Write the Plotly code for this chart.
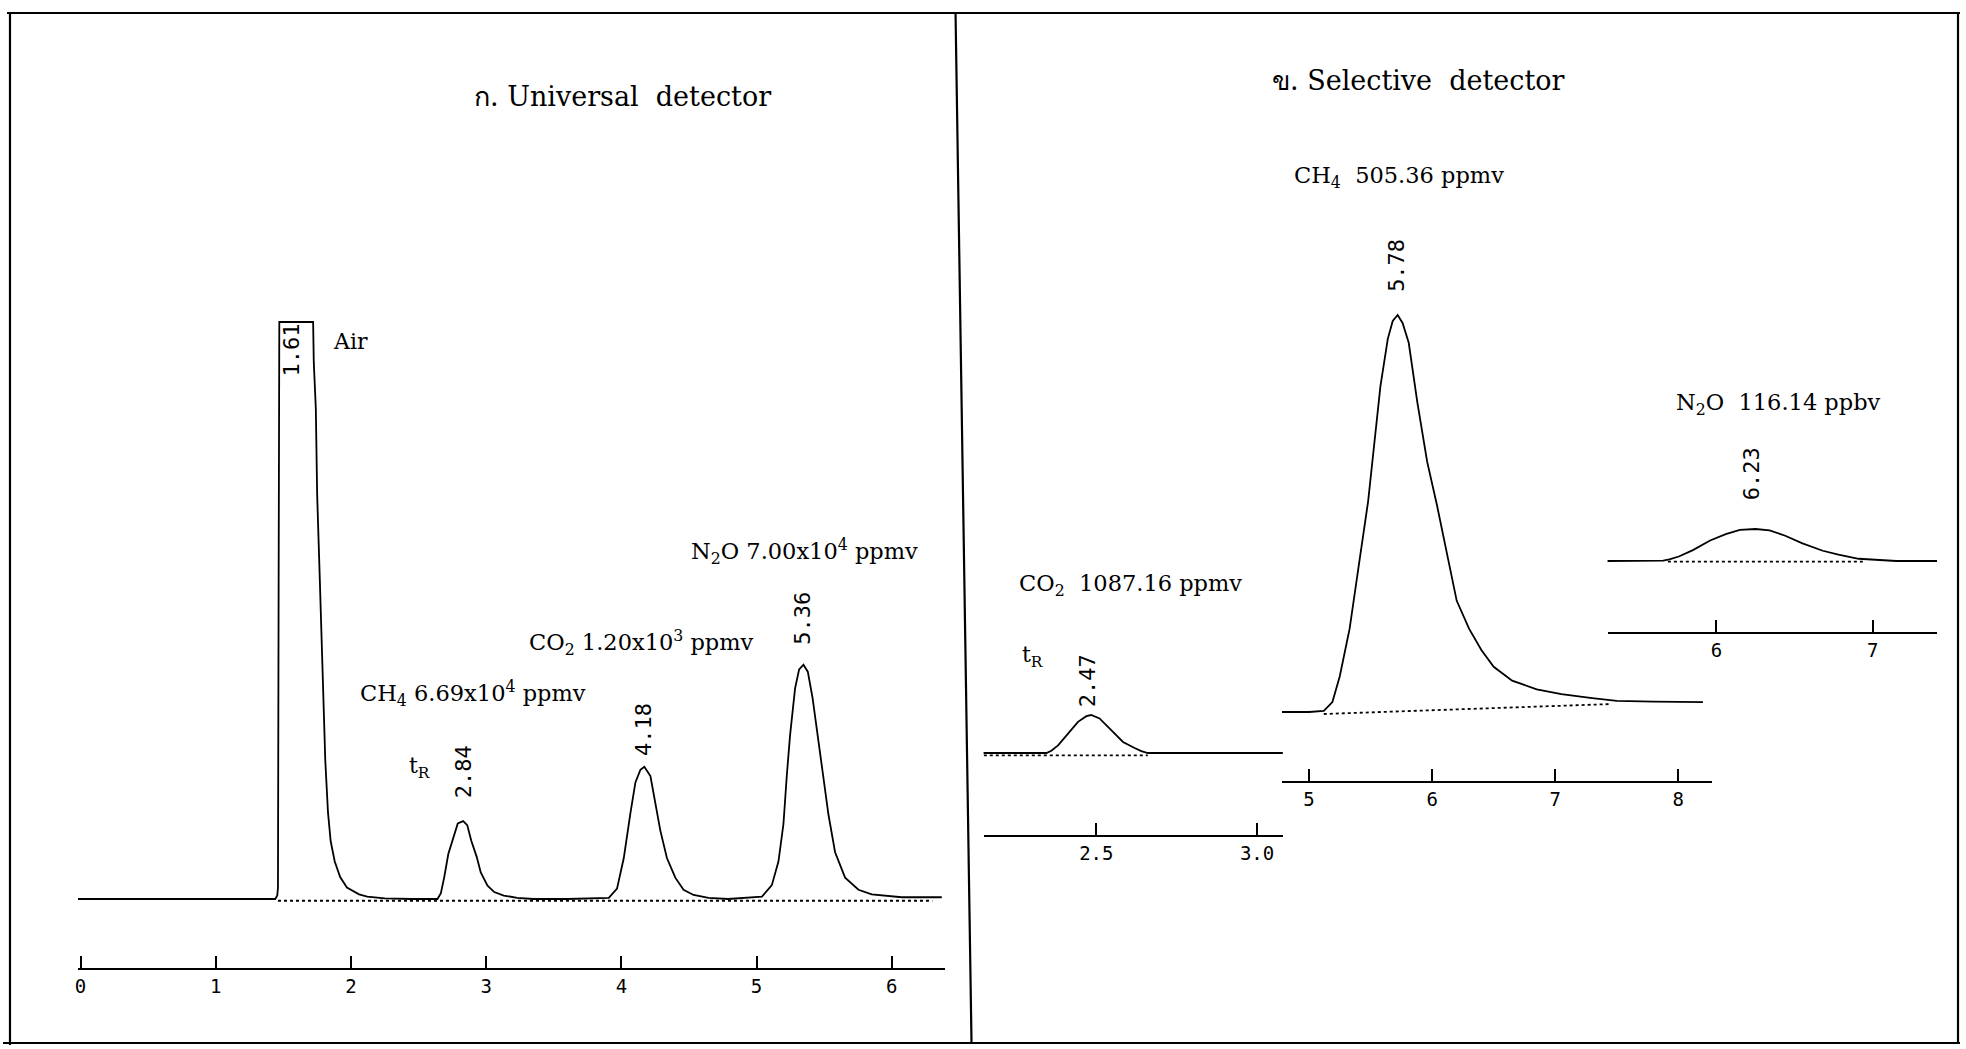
import plotly.graph_objects as go

W, H = 1966, 1049

# ---------------- data ----------------
# ก. Universal detector : retention time (min) vs detector signal (Air peak clipped at 100)
uni_time = [-0.02, 0.5, 1.0, 1.44, 1.455, 1.46, 1.465, 1.47, 1.72, 1.725, 1.74, 1.75, 1.77, 1.79,
            1.81, 1.83, 1.85, 1.88, 1.92, 1.97, 2.01, 2.06, 2.12, 2.25, 2.45,
            2.64, 2.665, 2.69, 2.72, 2.76, 2.79, 2.83, 2.86, 2.89, 2.93, 2.96, 3.01, 3.06, 3.13, 3.23,
            3.35, 3.6,
            3.907, 3.968, 4.018, 4.067, 4.104, 4.141, 4.17, 4.215, 4.251, 4.288, 4.337, 4.399, 4.46,
            4.534, 4.645, 4.79,
            5.04, 5.113, 5.162, 5.199, 5.224, 5.248, 5.285, 5.315, 5.347, 5.379, 5.414, 5.446, 5.483,
            5.532, 5.581, 5.655, 5.754, 5.852, 6.074, 6.37]
uni_signal = [0, 0, 0, 0, 0.6, 2.0, 55, 100, 100, 93, 85, 70, 55, 38,
              24, 15, 10, 6.5, 3.8, 2.0, 1.4, 0.8, 0.4, 0.1, 0,
              0, 1.0, 3.8, 7.8, 10.8, 13.1, 13.5, 12.8, 10.1, 7.3, 4.6, 2.3, 1.2, 0.6, 0.2,
              0, 0,
              0.2, 1.8, 7.1, 14.9, 20.2, 22.4, 22.9, 21.3, 16.6, 11.9, 7.1, 3.7, 1.6,
              0.7, 0.2, 0,
              0.4, 2.4, 6.5, 13.0, 21.5, 28.4, 36.5, 39.8, 40.6, 39.4, 34.9, 29.2, 22.7,
              14.6, 8.1, 3.7, 1.6, 0.8, 0.3, 0.3]
uni_base_time = [1.46, 6.30]
uni_base_signal = [-0.3, -0.3]
uni_ticks = [0, 1, 2, 3, 4, 5, 6]
uni_ticktext = ["0", "1", "2", "3", "4", "5", "6"]

# ข. Selective detector : CO2
co2_time = [2.148, 2.2, 2.25, 2.3, 2.345, 2.36, 2.381, 2.412, 2.443, 2.469, 2.484, 2.51, 2.547,
            2.583, 2.619, 2.64, 2.66, 2.75, 2.85, 2.95, 3.08]
co2_signal = [0, 0, 0, 0, 0, 6, 20, 51, 82, 97, 100, 91, 60, 29, 13, 5, 0, 0, 0, 0, 0]
co2_base_time = [2.15, 2.66]
co2_base_signal = [-6, -6]
co2_ticks = [2.5, 3.0]
co2_ticktext = ["2.5", "3.0"]

# ข. Selective detector : CH4
ch4_time = [4.78, 5.0, 5.12, 5.19, 5.25, 5.33, 5.40, 5.48, 5.58, 5.64, 5.68, 5.72, 5.76, 5.81,
            5.88, 5.96, 6.04, 6.12, 6.2, 6.3, 6.4, 6.5, 6.65, 6.85, 7.05, 7.3, 7.5, 7.8, 8.2]
ch4_signal = [0, 0, 0.3, 2.5, 9, 21, 36, 53, 82, 94, 98.5, 100, 98, 93,
              78, 63, 52, 40, 28, 21, 15.6, 11.4, 7.9, 5.7, 4.5, 3.5, 2.8, 2.6, 2.5]
ch4_base_time = [5.12, 7.45]
ch4_base_signal = [-0.5, 2.0]
ch4_ticks = [5, 6, 7, 8]
ch4_ticktext = ["5", "6", "7", "8"]

# ข. Selective detector : N2O
n2o_time = [5.30, 5.45, 5.60, 5.66, 5.70, 5.76, 5.85, 5.96, 6.06, 6.15, 6.25, 6.34, 6.44, 6.55,
            6.68, 6.78, 6.91, 7.04, 7.15, 7.41]
n2o_signal = [0, 0, 0, 1, 5, 14, 34, 64, 84, 97, 100, 96, 79, 55, 32, 20, 7, 2, 0, 0]
n2o_base_time = [5.69, 6.95]
n2o_base_signal = [-2, -2]
n2o_ticks = [6, 7]
n2o_ticktext = ["6", "7"]

# ---------------- layout helpers ----------------
SERIF = "DejaVu Serif, Liberation Serif, serif"
MONO = "DejaVu Sans Mono, Liberation Mono, monospace"
LW = 1.8


def x_axis(left_px, right_px, ref_px, ref_val, ppu, axis_px, tickvals, ticktext):
    return dict(
        domain=[left_px / W, right_px / W],
        range=[ref_val + (left_px - ref_px) / ppu, ref_val + (right_px - ref_px) / ppu],
        anchor="free", position=1 - axis_px / H,
        showline=True, linecolor="black", linewidth=LW,
        ticks="inside", ticklen=12, tickwidth=LW, tickcolor="black",
        tickvals=tickvals, ticktext=ticktext,
        tickfont=dict(family=MONO, size=19, color="black"),
        showgrid=False, zeroline=False, fixedrange=True,
    )


def y_axis(base_px, top_px, top_val, xname, pad=30):
    scale = (base_px - top_px) / top_val
    return dict(
        domain=[1 - (base_px + pad) / H, 1 - (top_px - pad) / H],
        range=[-pad / scale, top_val + pad / scale],
        anchor=xname, visible=False, showgrid=False, zeroline=False, fixedrange=True,
    )


fig = go.Figure()

line_style = dict(color="black", width=LW)
dot_style = dict(color="black", width=LW, dash="dot")

panels = [
    ("x", "y", uni_time, uni_signal, uni_base_time, uni_base_signal),
    ("x2", "y2", co2_time, co2_signal, co2_base_time, co2_base_signal),
    ("x3", "y3", ch4_time, ch4_signal, ch4_base_time, ch4_base_signal),
    ("x4", "y4", n2o_time, n2o_signal, n2o_base_time, n2o_base_signal),
]
for xa, ya, t, s, bt, bs in panels:
    fig.add_trace(go.Scatter(x=bt, y=bs, mode="lines", line=dot_style, xaxis=xa, yaxis=ya,
                             hoverinfo="skip", showlegend=False))
    fig.add_trace(go.Scatter(x=t, y=s, mode="lines", line=line_style, xaxis=xa, yaxis=ya,
                             showlegend=False))


def ann(text, x_px, y_px, size, family=SERIF, angle=0, xanchor="center"):
    return dict(text=text, x=x_px / W, y=1 - y_px / H, xref="paper", yref="paper",
                showarrow=False, textangle=angle, xanchor=xanchor, yanchor="middle",
                font=dict(family=family, size=size, color="black"))


PK = 22  # retention-time label size
annotations = [
    # left panel
    ann("ก. Universal&nbsp; detector", 620, 96, 27),
    ann("Air", 329, 341, 22, xanchor="left"),
    ann("1.61", 288, 350, PK, family=MONO, angle=-90),
    ann("t<sub>R</sub>", 417, 767, 22),
    ann("2.84", 461, 772, PK, family=MONO, angle=-90),
    ann("CH<sub>4</sub> 6.69x10<sup>4</sup> ppmv", 356, 693, 22.5, xanchor="left"),
    ann("CO<sub>2</sub> 1.20x10<sup>3</sup> ppmv", 525, 642, 22.5, xanchor="left"),
    ann("4.18", 641, 730, PK, family=MONO, angle=-90),
    ann("N<sub>2</sub>O 7.00x10<sup>4</sup> ppmv", 687, 552, 22.5, xanchor="left"),
    ann("5.36", 800, 618, PK, family=MONO, angle=-90),
    # right panel
    ann("ข. Selective&nbsp; detector", 1418, 80, 27),
    ann("CH<sub>4</sub>&nbsp; 505.36 ppmv", 1291, 177, 22.5, xanchor="left"),
    ann("5.78", 1395, 265, PK, family=MONO, angle=-90),
    ann("N<sub>2</sub>O&nbsp; 116.14 ppbv", 1674, 404, 22.5, xanchor="left"),
    ann("6.23", 1752, 474, PK, family=MONO, angle=-90),
    ann("CO<sub>2</sub>&nbsp; 1087.16 ppmv", 1016, 585, 22.5, xanchor="left"),
    ann("t<sub>R</sub>", 1031, 656, 22),
    ann("2.47", 1086, 681, PK, family=MONO, angle=-90),
]


def seg(x0, y0, x1, y1, w=2.2):
    return dict(type="line", xref="paper", yref="paper",
                x0=x0 / W, y0=1 - y0 / H, x1=x1 / W, y1=1 - y1 / H,
                line=dict(color="black", width=w))


shapes = [
    seg(4, 13, 1960, 13),
    seg(7, 13, 7, 1045),
    seg(0, 1043, 1960, 1043),
    seg(1958, 13, 1958, 1043),
    seg(954, 13, 970, 1043),
]

fig.update_layout(
    width=W, height=H,
    margin=dict(l=0, r=0, t=0, b=0),
    paper_bgcolor="white", plot_bgcolor="rgba(0,0,0,0)",
    showlegend=False,
    xaxis=x_axis(75, 943, 77.7, 0, 135.4, 969, uni_ticks, uni_ticktext),
    yaxis=y_axis(899, 322, 100, "x"),
    xaxis2=x_axis(982, 1282, 1095, 2.5, 322, 836, co2_ticks, co2_ticktext),
    yaxis2=y_axis(753, 715, 100, "x2"),
    xaxis3=x_axis(1281, 1712, 1308, 5, 123.3, 782, ch4_ticks, ch4_ticktext),
    yaxis3=y_axis(712, 315, 100, "x3"),
    xaxis4=x_axis(1607, 1937, 1716, 6, 156.7, 633, n2o_ticks, n2o_ticktext),
    yaxis4=y_axis(561, 529, 100, "x4"),
    annotations=annotations,
    shapes=shapes,
)

fig.write_html("out.html")
